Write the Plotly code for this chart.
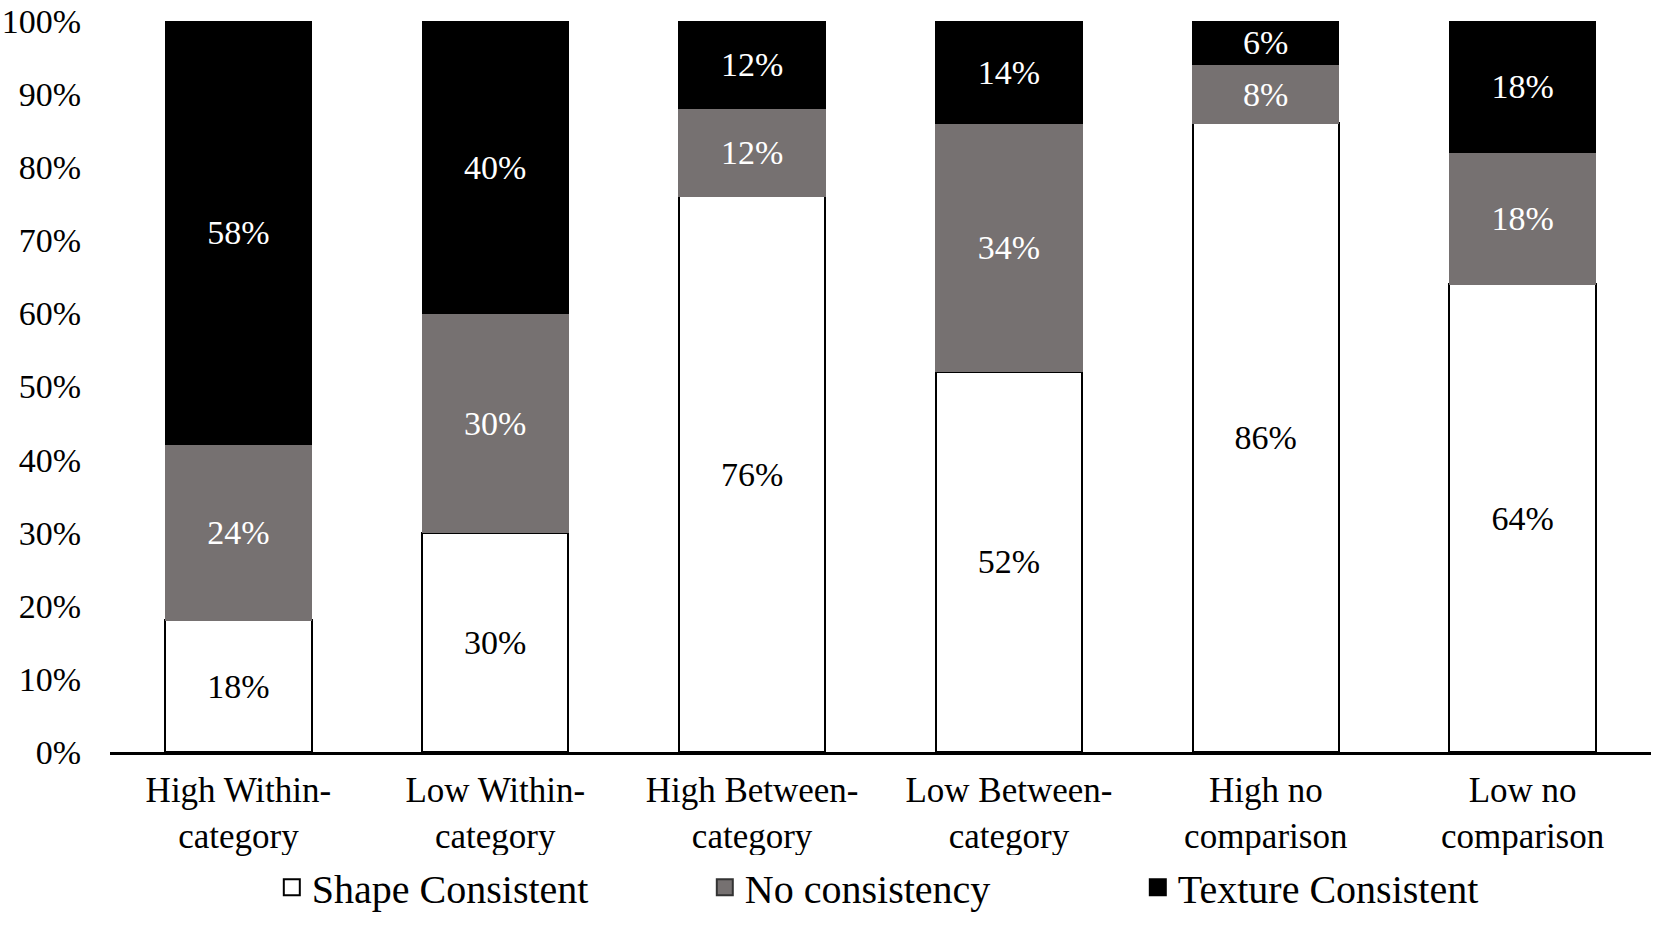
import plotly.graph_objects as go

categories = ["High Within-<br>category", "Low Within-<br>category", "High Between-<br>category",
              "Low Between-<br>category", "High no<br>comparison", "Low no<br>comparison"]
shape_consistent = [18, 30, 76, 52, 86, 64]
no_consistency = [24, 30, 12, 34, 8, 18]
texture_consistent = [58, 40, 12, 14, 6, 18]
series_names = ["Shape Consistent", "No consistency", "Texture Consistent"]
y_ticks = [0, 10, 20, 30, 40, 50, 60, 70, 80, 90, 100]
y_tick_labels = [f"{v}%" for v in y_ticks]

FONT = "Liberation Serif"
GRAY = "#767171"
FS = 34

fig = go.Figure()
series = [
    (series_names[0], shape_consistent, "white", "black", 2, "black"),
    (series_names[1], no_consistency, GRAY, GRAY, 1, "white"),
    (series_names[2], texture_consistent, "black", "black", 1, "white"),
]
for name, vals, fill, line, lw, tcol in series:
    fig.add_trace(go.Bar(
        x=categories, y=vals, name=name, showlegend=False,
        marker=dict(color=fill, line=dict(color=line, width=lw)),
        text=[f"{v}%" for v in vals], textposition="inside", insidetextanchor="middle",
        textangle=0, textfont=dict(family=FONT, size=FS, color=tcol),
        hoverinfo="skip",
    ))

# legend entries
legend_styles = [("white", "black"), (GRAY, "#333333"), ("black", "black")]
for name, (fill, line) in zip(series_names, legend_styles):
    fig.add_trace(go.Scatter(
        x=[None], y=[None], mode="markers", name=name,
        marker=dict(symbol="square", size=22, color=fill, line=dict(color=line, width=2)),
    ))

fig.update_layout(
    width=1654, height=925,
    margin=dict(l=110, r=3, t=21, b=173),
    paper_bgcolor="white", plot_bgcolor="white",
    barmode="stack", bargap=0.43,
    font=dict(family=FONT, size=FS, color="black"),
    uniformtext=dict(minsize=FS, mode="show"),
    legend=dict(orientation="h", x=0.105, xanchor="left", y=-0.185, yanchor="middle",
                traceorder="normal",
                font=dict(family=FONT, size=40, color="black"),
                entrywidth=388, entrywidthmode="pixels", itemsizing="trace"),
    xaxis=dict(showline=True, linecolor="black", linewidth=3, ticks="", showgrid=False,
               automargin=False, ticklabelstandoff=5,
               tickfont=dict(family=FONT, size=35, color="black")),
    yaxis=dict(range=[0, 100], tickvals=y_ticks, ticktext=y_tick_labels, showgrid=False,
               zeroline=False, showline=False, ticks="", ticklabelstandoff=28,
               automargin=False,
               tickfont=dict(family=FONT, size=FS, color="black")),
)

fig.write_html("out.html", config={"displayModeBar": False},
               post_script="document.body.style.margin='0';document.body.style.overflow='hidden';")
